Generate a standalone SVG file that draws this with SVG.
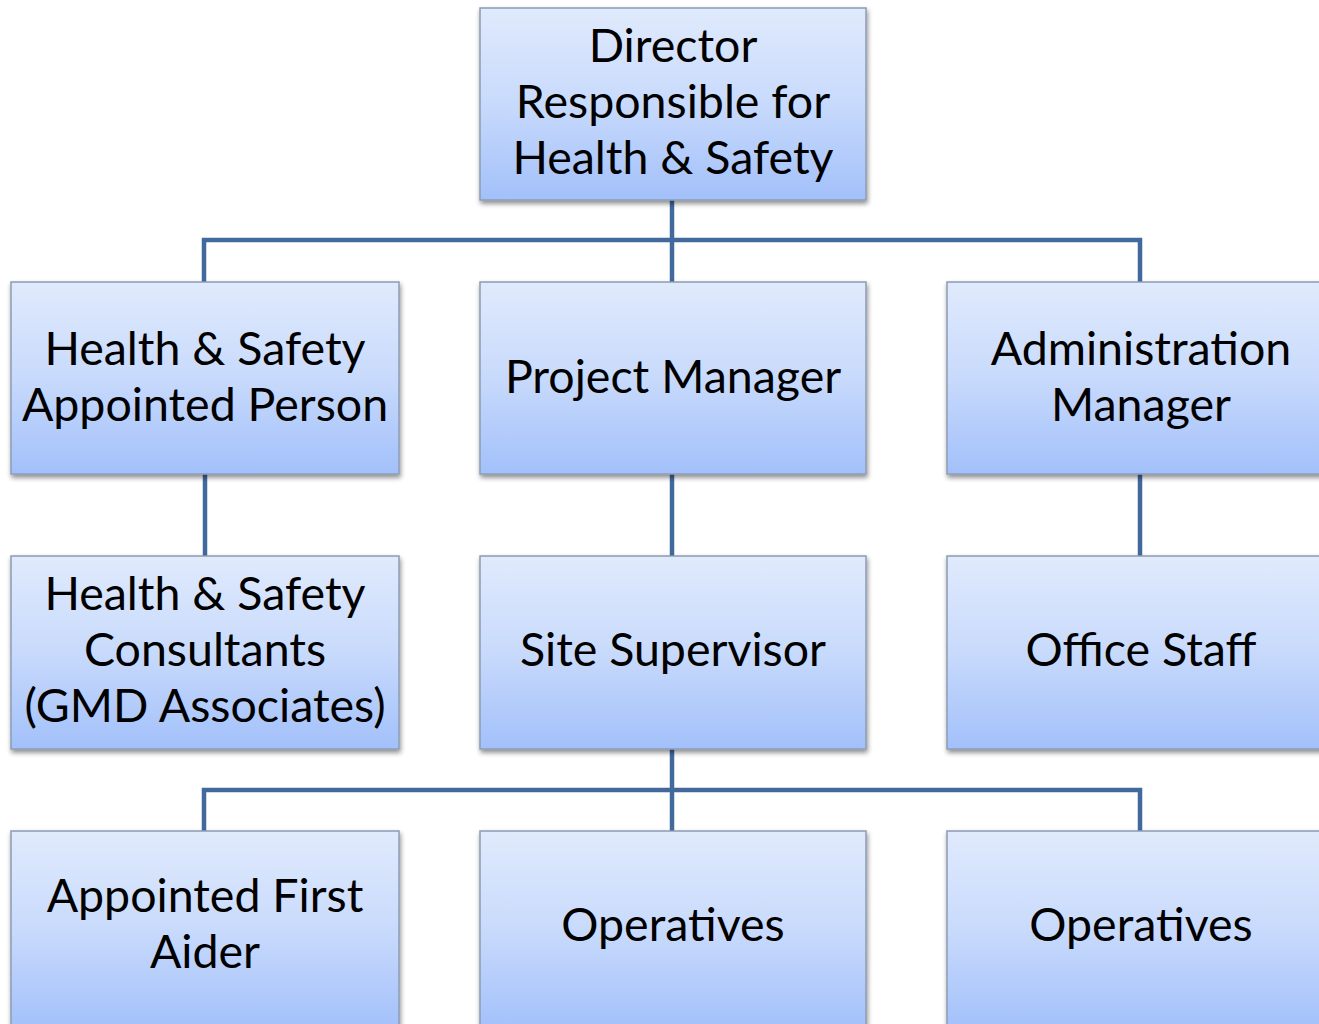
<svg xmlns="http://www.w3.org/2000/svg" width="1319" height="1024" viewBox="0 0 1319 1024">
  <defs>
    <linearGradient id="boxFill" x1="0" y1="0" x2="0" y2="1">
      <stop offset="0" stop-color="#e0eafc"/>
      <stop offset="0.5" stop-color="#c8dafc"/>
      <stop offset="1" stop-color="#a2c0fa"/>
    </linearGradient>
    <filter id="shadow" x="-5%" y="-5%" width="115%" height="120%">
      <feGaussianBlur in="SourceAlpha" stdDeviation="2.5"/>
      <feOffset dx="1" dy="3" result="b"/>
      <feComponentTransfer><feFuncA type="linear" slope="0.45"/></feComponentTransfer>
      <feMerge><feMergeNode/><feMergeNode in="SourceGraphic"/></feMerge>
    </filter>
  </defs>
  <style>
    .box { fill: url(#boxFill); stroke: #8c9cb4; stroke-width: 1.5; filter: url(#shadow); }
    .lbl { font-family: "Lato", "Liberation Sans", sans-serif; font-size: 46.5px; fill: #000; text-anchor: middle; }
    .link { fill: none; stroke: #41699c; stroke-width: 4.5; }
  </style>
  <rect width="1319" height="1024" fill="#ffffff"/>

  <!-- connectors -->
  <g id="connectors">
    <path class="link" d="M672 200 V282"/>
    <path class="link" d="M204 282 V240 H1140 V282"/>
    <path class="link" d="M205 474 V556"/>
    <path class="link" d="M672 474 V556"/>
    <path class="link" d="M1140 474 V556"/>
    <path class="link" d="M672 749 V831"/>
    <path class="link" d="M204 831 V790 H1140 V831"/>
  </g>

  <g id="director">
    <rect class="box" x="480" y="8" width="386" height="192"/>
    <text class="lbl" x="673" y="62">Director</text>
    <text class="lbl" x="673" y="118">Responsible for</text>
    <text class="lbl" x="673" y="174">Health &amp; Safety</text>
  </g>

  <g id="hs-appointed">
    <rect class="box" x="11" y="282" width="388" height="192"/>
    <text class="lbl" x="205" y="365">Health &amp; Safety</text>
    <text class="lbl" x="205" y="421">Appointed Person</text>
  </g>

  <g id="project-manager">
    <rect class="box" x="480" y="282" width="386" height="192"/>
    <text class="lbl" x="673" y="393">Project Manager</text>
  </g>

  <g id="admin-manager">
    <rect class="box" x="947" y="282" width="386" height="192"/>
    <text class="lbl" x="1141" y="365">Administration</text>
    <text class="lbl" x="1141" y="421">Manager</text>
  </g>

  <g id="hs-consultants">
    <rect class="box" x="11" y="556" width="388" height="193"/>
    <text class="lbl" x="205" y="610">Health &amp; Safety</text>
    <text class="lbl" x="205" y="666">Consultants</text>
    <text class="lbl" x="205" y="722">(GMD Associates)</text>
  </g>

  <g id="site-supervisor">
    <rect class="box" x="480" y="556" width="386" height="193"/>
    <text class="lbl" x="673" y="666">Site Supervisor</text>
  </g>

  <g id="office-staff">
    <rect class="box" x="947" y="556" width="386" height="193"/>
    <text class="lbl" x="1141" y="666">Office Staff</text>
  </g>

  <g id="first-aider">
    <rect class="box" x="11" y="831" width="388" height="200"/>
    <text class="lbl" x="205" y="912">Appointed First</text>
    <text class="lbl" x="205" y="968">Aider</text>
  </g>

  <g id="operatives-1">
    <rect class="box" x="480" y="831" width="386" height="200"/>
    <text class="lbl" x="673" y="941">Operatives</text>
  </g>

  <g id="operatives-2">
    <rect class="box" x="947" y="831" width="386" height="200"/>
    <text class="lbl" x="1141" y="941">Operatives</text>
  </g>
</svg>
